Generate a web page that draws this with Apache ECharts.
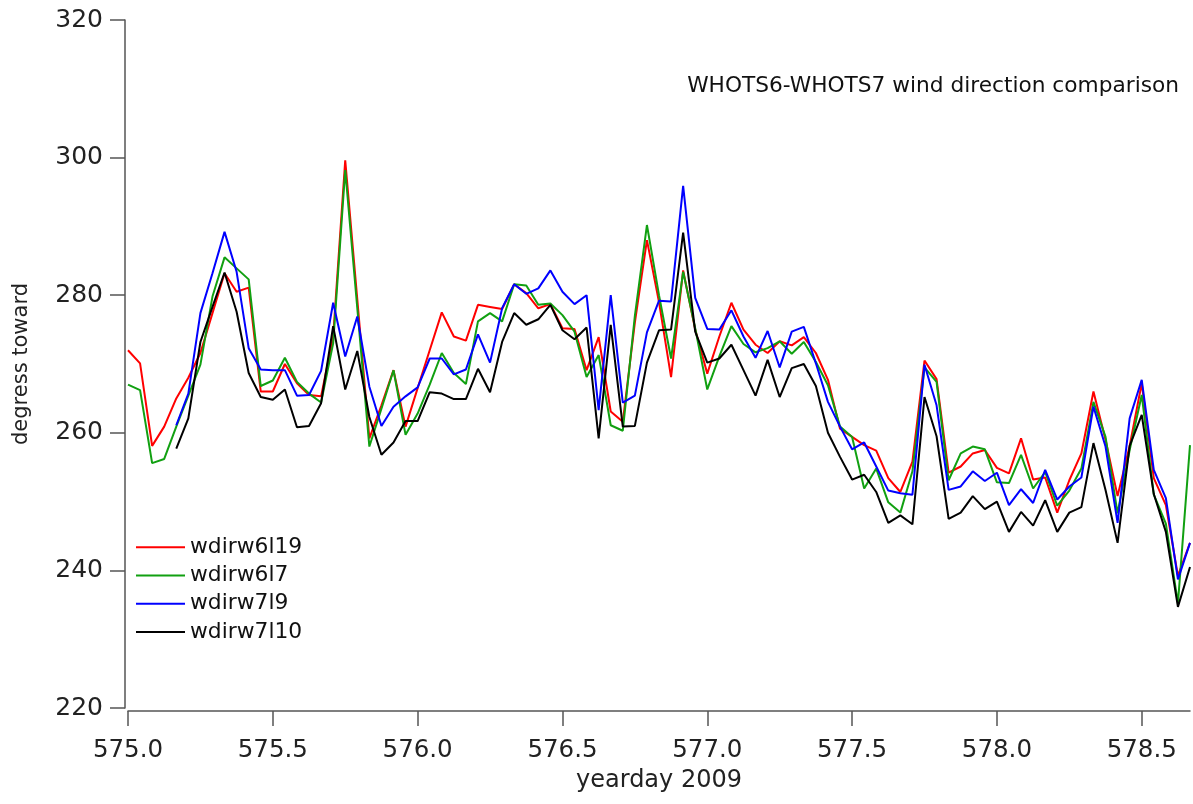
<!DOCTYPE html>
<html>
<head>
<meta charset="utf-8">
<script src="https://cdn.jsdelivr.net/npm/echarts@6/dist/echarts.min.js"></script>
<style>
html,body{margin:0;padding:0;background:#fff;}
#chart{width:1193px;height:804px;}
</style>
</head>
<body>
<div id="chart"></div>
<script>
// hourly samples starting at yearday 575.0
const startDay = 575.0;
const hoursPerDay = 24;
const sampleCount = 89;

const seriesNames = ['wdirw6l19', 'wdirw6l7', 'wdirw7l9', 'wdirw7l10'];

const wdirw6l19 = [272.0,270.1,258.1,260.9,265.0,268.0,271.6,277.4,283.2,280.5,281.1,266.0,266.0,270.0,267.2,265.5,265.3,274.0,299.6,279.4,259.2,264.0,269.1,260.9,266.5,272.0,277.5,274.0,273.4,278.6,278.3,278.0,281.6,280.3,278.1,278.7,275.2,275.1,269.1,273.9,263.1,261.6,276.0,288.0,279.0,268.1,283.6,275.0,268.6,274.0,278.9,275.0,272.8,271.6,273.3,272.7,273.9,271.6,267.7,260.6,259.4,258.2,257.4,253.4,251.4,255.8,270.5,267.8,254.2,255.1,257.0,257.5,254.9,254.1,259.2,253.2,253.5,248.4,253.1,257.0,266.0,259.0,250.8,258.1,267.2,253.4,249.5,239.2,244.0];

const wdirw6l7 = [267.0,266.2,255.6,256.2,260.9,265.4,269.9,279.8,285.5,283.9,282.3,266.8,267.6,270.9,267.4,265.7,264.4,273.0,298.2,278.1,258.0,263.5,269.1,259.7,262.8,267.0,271.6,268.7,267.1,276.2,277.4,276.2,281.6,281.4,278.6,278.8,277.1,274.7,268.1,271.3,261.1,260.3,277.0,290.2,280.0,270.8,283.4,275.2,266.3,271.1,275.5,272.9,271.7,272.3,273.3,271.5,273.2,270.3,266.9,260.9,259.4,251.9,254.8,249.9,248.4,254.4,269.5,267.4,253.1,257.0,258.0,257.6,252.8,252.7,256.8,251.9,254.3,249.4,251.6,254.8,264.5,259.4,248.3,257.5,265.5,251.0,246.8,235.2,258.2];

const wdirw7l9 = [null,null,null,null,261.1,265.7,277.4,283.2,289.2,283.4,272.3,269.2,269.1,269.1,265.4,265.5,269.0,278.9,271.1,276.9,266.7,261.0,263.8,265.3,266.6,270.8,270.8,268.5,269.2,274.3,270.2,278.1,281.6,280.2,281.0,283.6,280.5,278.7,280.0,263.3,280.0,264.4,265.4,274.6,279.2,279.1,295.9,279.6,275.1,275.0,277.8,274.0,270.9,274.8,269.5,274.7,275.4,270.1,264.5,260.9,257.6,258.6,255.1,251.6,251.2,251.0,269.9,264.0,251.7,252.2,254.4,253.0,254.2,249.5,251.8,249.8,254.6,250.3,252.2,253.5,263.8,258.0,246.9,262.1,267.7,254.6,250.5,238.7,244.0];

const wdirw7l10 = [null,null,null,null,257.7,262.1,273.2,278.3,283.3,277.6,268.7,265.2,264.8,266.3,260.8,261.0,264.3,275.5,266.3,271.9,262.3,256.8,258.6,261.7,261.7,265.9,265.7,264.9,264.9,269.3,265.9,273.2,277.4,275.7,276.5,278.6,274.9,273.6,275.3,259.2,275.7,260.9,261.0,270.2,274.9,275.0,289.1,274.7,270.2,270.8,272.8,269.1,265.4,270.6,265.2,269.4,270.0,266.8,260.0,256.5,253.2,253.9,251.4,246.9,248.0,246.7,265.2,259.5,247.5,248.4,250.8,248.9,250.0,245.6,248.5,246.5,250.2,245.6,248.4,249.2,258.5,251.7,244.0,258.1,262.6,251.1,245.6,234.7,240.5];

const xTickValues = [575.0, 575.5, 576.0, 576.5, 577.0, 577.5, 578.0, 578.5];
const yTickValues = [220, 240, 260, 280, 300, 320];

const titleText = 'WHOTS6-WHOTS7 wind direction comparison';
const xTitle = 'yearday 2009';
const yTitle = 'degress toward';

const colors = ['#ff0000', '#11a011', '#0000ff', '#000000'];

const yeardays = [];
for (let i = 0; i < sampleCount; i++) yeardays.push(startDay + i / hoursPerDay);

const allValues = [wdirw6l19, wdirw6l7, wdirw7l9, wdirw7l10];

function pairs(vals) {
  const out = [];
  for (let i = 0; i < vals.length; i++) {
    if (vals[i] !== null) out.push([yeardays[i], vals[i]]);
  }
  return out;
}

const FONT = 'DejaVu Sans';
const chart = echarts.init(document.getElementById('chart'), null, {renderer: 'canvas'});

chart.setOption({
  animation: false,
  backgroundColor: '#ffffff',
  title: {
    text: titleText,
    right: 9,
    top: 70,
    textStyle: {fontFamily: FONT, fontSize: 21.7, fontWeight: 'normal', color: '#111'}
  },
  legend: {
    orient: 'vertical',
    left: 131,
    top: 528,
    icon: 'rect',
    itemWidth: 49,
    itemHeight: 2,
    itemGap: 0,
    itemTextGap: 12,
    data: seriesNames,
    textStyle: {fontFamily: FONT, fontSize: 21.8, color: '#111', lineHeight: 28.3}
  },
  grid: {left: 128, right: 3, top: 20, bottom: 96},
  xAxis: {
    type: 'value',
    min: startDay,
    max: startDay + (sampleCount - 1) / hoursPerDay,
    offset: 3,
    splitLine: {show: false},
    axisLine: {show: true, lineStyle: {color: '#555', width: 1.5}},
    axisTick: {show: true, customValues: xTickValues, length: 15, lineStyle: {color: '#555', width: 1.5}},
    axisLabel: {
      customValues: xTickValues,
      formatter: v => Number(v).toFixed(1),
      fontFamily: FONT, fontSize: 24.5, color: '#222', margin: 27
    },
    name: xTitle,
    nameLocation: 'middle',
    nameGap: 58,
    nameTextStyle: {fontFamily: FONT, fontSize: 24, color: '#222'}
  },
  yAxis: {
    type: 'value',
    min: 220,
    max: 320,
    interval: 20,
    offset: 3,
    splitLine: {show: false},
    axisLine: {show: true, lineStyle: {color: '#555', width: 1.5}},
    axisTick: {show: true, length: 15, lineStyle: {color: '#555', width: 1.5}},
    axisLabel: {
      formatter: v => String(v),
      fontFamily: FONT, fontSize: 25, color: '#222', margin: 22
    },
    name: yTitle,
    nameLocation: 'middle',
    nameRotate: 90,
    nameGap: 93,
    nameTextStyle: {fontFamily: FONT, fontSize: 21, color: '#222'}
  },
  series: seriesNames.map((name, k) => ({
    name: name,
    type: 'line',
    data: pairs(allValues[k]),
    symbol: 'none',
    showSymbol: false,
    connectNulls: false,
    color: colors[k],
    lineStyle: {color: colors[k], width: 2},
    z: 2 + k
  }))
});
</script>
</body>
</html>
